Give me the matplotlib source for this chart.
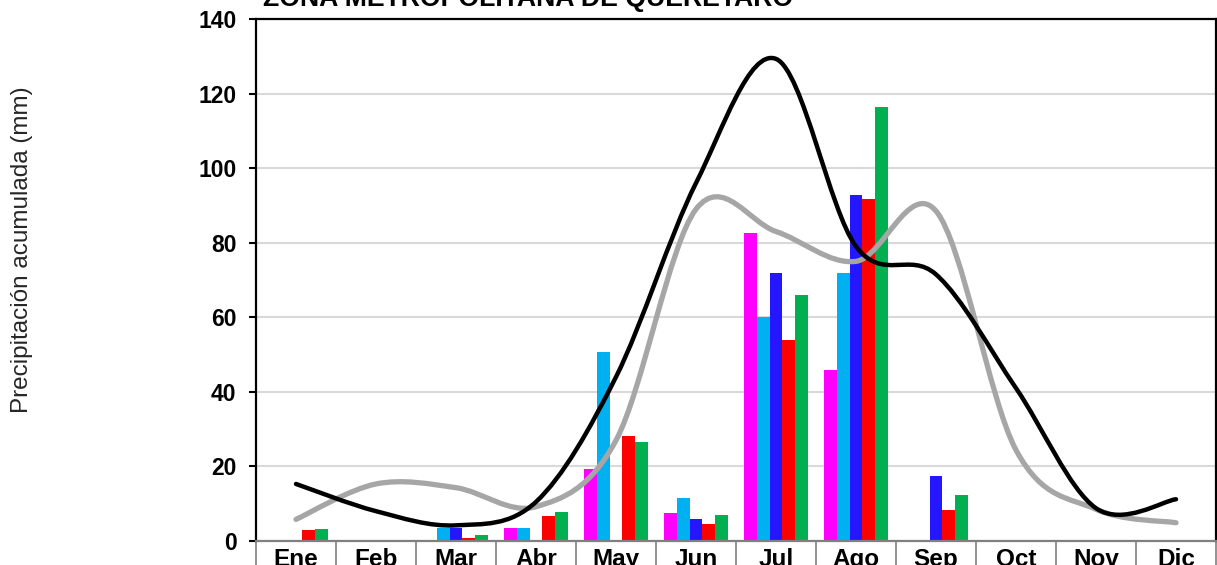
import numpy as np
import matplotlib
matplotlib.use("Agg")
import matplotlib.pyplot as plt
from matplotlib.path import Path
from matplotlib.patches import PathPatch

plt.rcParams["font.family"] = ["Liberation Sans", "DejaVu Sans"]

months = ["Ene", "Feb", "Mar", "Abr", "May", "Jun", "Jul", "Ago", "Sep", "Oct", "Nov", "Dic"]

# monthly accumulated precipitation (mm), one list per series
serie_a = [0, 0, 0.4, 3.5, 19.3, 7.5, 82.5, 45.9, 0, 0, 0, 0]
serie_b = [0, 0, 3.4, 3.5, 50.7, 11.4, 60.1, 71.9, 0, 0, 0, 0]
serie_c = [0, 0, 3.5, 0, 0, 5.9, 71.9, 92.7, 17.4, 0, 0, 0]
serie_d = [2.9, 0, 0.8, 6.7, 28.1, 4.5, 53.8, 91.8, 8.3, 0, 0, 0]
serie_e = [3.1, 0, 1.5, 7.7, 26.6, 7.0, 65.9, 116.4, 12.4, 0, 0, 0]

# reference curves
curva_negra = [15.3, 8.0, 4.2, 10.5, 44.0, 96.0, 129.3, 79.0, 71.5, 41.0, 8.8, 11.2]
curva_gris = [5.8, 15.3, 14.3, 9.2, 27.0, 89.0, 83.0, 75.0, 88.5, 24.4, 8.5, 4.9]

bar_colors = ["#FF00FF", "#00B0F0", "#2416FF", "#FF0000", "#00B050"]


def smooth_path(xs, ys, t=1 / 6):
    # Excel-like smoothed line: cubic Bezier through every point
    n = len(xs)
    verts = [(xs[0], ys[0])]
    codes = [Path.MOVETO]
    for i in range(n - 1):
        a = i - 1 if i > 0 else i
        d = i + 2 if i + 2 < n else i + 1
        c1 = (xs[i] + (xs[i + 1] - xs[a]) * t, ys[i] + (ys[i + 1] - ys[a]) * t)
        c2 = (xs[i + 1] - (xs[d] - xs[i]) * t, ys[i + 1] - (ys[d] - ys[i]) * t)
        verts += [c1, c2, (xs[i + 1], ys[i + 1])]
        codes += [Path.CURVE4] * 3
    return Path(verts, codes)


fig = plt.figure(figsize=(12.17, 5.65), dpi=100)
ax = fig.add_axes([256 / 1217, 24 / 565, 960 / 1217, 522 / 565])

x = np.arange(len(months))
w = 0.16
series = [serie_a, serie_b, serie_c, serie_d, serie_e]
for k, (vals, col) in enumerate(zip(series, bar_colors)):
    ax.bar(x + (k - 2) * w, vals, width=w, color=col, linewidth=0, zorder=2)

for vals, col, lw in [(curva_gris, "#A6A6A6", 3.8), (curva_negra, "black", 3.2)]:
    patch = PathPatch(smooth_path(x, vals), facecolor="none", edgecolor=col,
                      linewidth=lw, capstyle="round", zorder=3)
    ax.add_patch(patch)

ax.set_xlim(-0.5, 11.5)
ax.set_ylim(0, 140)
ax.set_yticks(np.arange(0, 141, 20))
ax.yaxis.grid(True, color="#D9D9D9", linewidth=1.5, zorder=0)
ax.set_axisbelow(True)

ax.set_xticks(x)
ax.set_xticklabels(months, fontsize=17.5, fontweight="bold")
ax.set_xticks(np.arange(-0.5, 12, 1), minor=True)
ax.tick_params(axis="x", which="major", length=0, pad=5)
ax.tick_params(axis="x", which="minor", length=30, color="#808080", width=1.2)
ax.tick_params(axis="y", length=5, width=1.5, pad=9, labelsize=16.5)
for lab in ax.get_yticklabels():
    lab.set_fontweight("bold")

for side in ["left", "top", "right"]:
    ax.spines[side].set_color("black")
    ax.spines[side].set_linewidth(1.6)
ax.spines["bottom"].set_color("#808080")
ax.spines["bottom"].set_linewidth(1.6)

fig.text(22 / 1217, 1 - 250 / 565, "Precipitación acumulada (mm)", rotation=90,
         ha="center", va="center", fontsize=17.5, color="#262626")
fig.text(528 / 1217, 1 - 6 / 565, "ZONA METROPOLITANA DE QUERETARO",
         ha="center", va="baseline", fontsize=19.2, fontweight="bold")

fig.savefig("out.png", dpi=100)
